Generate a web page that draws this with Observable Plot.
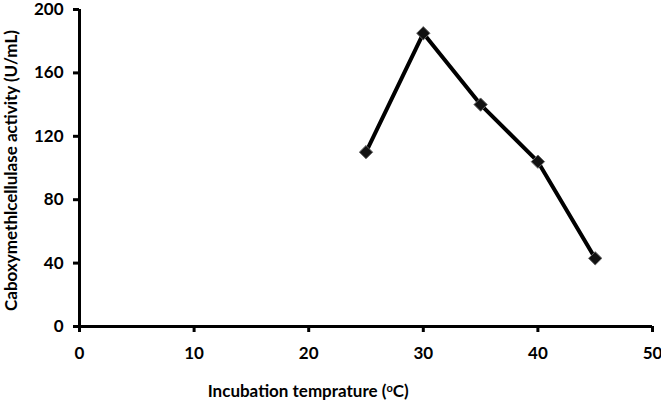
<!DOCTYPE html>
<html>
<head>
<meta charset="utf-8">
<script src="https://cdn.jsdelivr.net/npm/d3@7"></script>
<script src="https://cdn.jsdelivr.net/npm/@observablehq/plot@0.6"></script>
<style>
  html, body { margin: 0; padding: 0; background: #fff; }
  #chart svg { display: block; }
</style>
</head>
<body>
<div id="chart"></div>
<script>
const temperature = [25, 30, 35, 40, 45];
const activity = [110, 185, 140, 104, 43];
const xTicks = [0, 10, 20, 30, 40, 50];
const yTicks = [0, 40, 80, 120, 160, 200];
const xLabel = ["Incubation temprature (", "o", "C)"];
const yLabel = "Caboxymethlcellulase activity (U/mL)";

const data = temperature.map((t, i) => ({t, a: activity[i]}));

const font = "Lato, 'Open Sans', sans-serif";

const plot = Plot.plot({
  width: 661,
  height: 406,
  marginLeft: 79,
  marginRight: 9,
  marginTop: 9,
  marginBottom: 80,
  style: {fontFamily: font, fontSize: "17px", fontWeight: "bold", color: "#000", background: "#fff", overflow: "visible"},
  x: {domain: [0, 50], ticks: xTicks, label: null},
  y: {domain: [0, 200], ticks: yTicks, label: null},
  marks: [
    Plot.axisX({ticks: xTicks, tickSize: 6, tickPadding: 14, strokeWidth: 3, strokeOpacity: 1, fontSize: 17, fontWeight: "bold", label: null}),
    Plot.axisY({ticks: yTicks, tickSize: 6, tickPadding: 10, strokeWidth: 3, strokeOpacity: 1, fontSize: 17, fontWeight: "bold", label: null}),
    Plot.ruleX([0], {stroke: "#000", strokeWidth: 3}),
    Plot.ruleY([0], {stroke: "#000", strokeWidth: 3}),
    Plot.line(data, {x: "t", y: "a", stroke: "#000", strokeWidth: 4}),
    Plot.dot(data, {x: "t", y: "a", symbol: "diamond2", r: 6, fill: "#111", stroke: "#666", strokeWidth: 1})
  ]
});

document.getElementById("chart").appendChild(plot);

const svg = d3.select(plot);
const sx = plot.scale("x"), sy = plot.scale("y");

// x axis title (with superscript o)
const xt = svg.append("text")
  .attr("x", sx.apply(20))
  .attr("y", 397)
  .attr("text-anchor", "middle")
  .attr("font-family", font)
  .attr("font-weight", "bold")
  .attr("font-size", 17)
  .attr("fill", "#000");
xt.append("tspan").text(xLabel[0]);
xt.append("tspan").attr("dy", "-0.45em").attr("font-size", "0.65em").text(xLabel[1]);
xt.append("tspan").attr("dy", "0.29em").text(xLabel[2]);

// y axis title
const yMid = (sy.apply(0) + sy.apply(200)) / 2 + 3;
const yt = svg.append("text")
  .attr("transform", `translate(17,${yMid}) rotate(-90)`)
  .attr("text-anchor", "middle")
  .attr("font-family", font)
  .attr("font-weight", "bold")
  .attr("font-size", 17)
  .attr("fill", "#000")
  .text(yLabel);
{
  const w = yt.node().getComputedTextLength();
  yt.attr("font-size", Math.min(17, 17 * 320 / w));
}
</script>
</body>
</html>
